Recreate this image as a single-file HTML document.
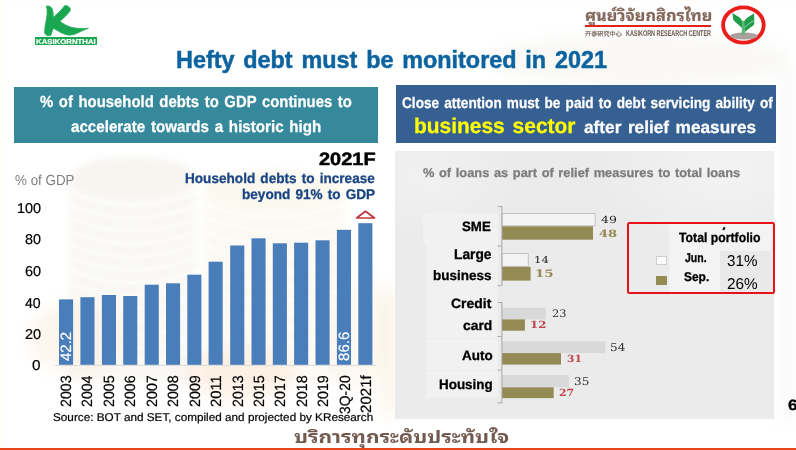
<!DOCTYPE html>
<html lang="en">
<head>
<meta charset="utf-8">
<title>Hefty debt must be monitored in 2021</title>
<style>
*{box-sizing:border-box;margin:0;padding:0}
html,body{width:796px;height:450px;overflow:hidden;background:#fff}
body{position:relative;font-family:"Liberation Sans",sans-serif;color:#000}
#slide{position:absolute;left:0;top:0;width:796px;height:450px;overflow:hidden;background:#fff}
.abs,.bar,.hb{position:absolute}
.t{position:absolute;white-space:nowrap;line-height:1;transform-origin:0 0}
.b{font-weight:bold}
.ds{font-family:"DejaVu Serif","Liberation Serif",serif}
.th{font-family:"Liberation Sans","Noto Sans Thai Looped","Loma","Noto Sans Thai",sans-serif}
.ths{font-family:"Liberation Serif","Noto Serif Thai","FreeSerif",serif}
.cjk{font-family:"Liberation Sans","Noto Sans CJK SC",sans-serif}
#lbox{left:14px;top:87px;width:364.2px;height:55.8px;background:#36899b}
#rbox{left:396px;top:85px;width:380px;height:57.8px;background:#365f92}
#panel{left:395px;top:151px;width:379.3px;height:267.5px;background:radial-gradient(ellipse 130px 70px at 88% 8%,#f3f3f3 0%,rgba(243,243,243,0) 100%),radial-gradient(ellipse 90px 60px at 8% 10%,#f1f1f1 0%,rgba(241,241,241,0) 100%),#ebebeb}
#bline{left:0;top:448.3px;width:796px;height:1.7px;background:#e8451a}
.bar{width:14.1px;background:#4a7ebb}
#xaxis{left:55px;top:364.8px;width:321px;height:1px;background:#dcdcdc}
.hb{left:502px}
.j1{background:#f3f3f3;border:1px solid #c4c4c4;border-left:0}
.j2{background:#d9d9d9}
.s{background:#948a54}
.ax{position:absolute;background:#a8a8a8}
.lb{position:absolute;background:#f1f1f1}
#legend{left:626.8px;top:222.2px;width:148.4px;height:72px;border:2px solid #ea1219;border-radius:2.5px}
#lgw{left:668.5px;top:224px;width:102.5px;height:68.4px;background:#f3f3f3}
#lgv{left:720.3px;top:251px;width:50.7px;height:41.4px;background:#e9e9e9}
#sqj{left:656px;top:255.7px;width:10.6px;height:9.4px;background:#fbfbfb;border:1px solid #cfcfcf}
#sqs{left:656px;top:276px;width:10.6px;height:9.2px;background:#948a54}
#kbox{left:35px;top:37.1px;width:61.8px;height:7.7px;background:#1ba751}
#thline{left:585px;top:25.1px;width:126px;height:1.6px;background:#e3221c}
</style>
</head>
<body>
<div id="slide">
<svg class="abs" id="bg" style="left:0;top:0" width="796" height="450" viewBox="0 0 796 450" aria-hidden="true">
<rect x="0" y="0" width="796" height="1.5" fill="#fffefa"/>
<rect x="0" y="0" width="3" height="450" fill="#fffef9"/>
<g style="filter:blur(3px)" opacity=".75">
<path d="M70 178 C70 160 196 160 196 178 L198 380 L68 380 Z" fill="#f8f6f1"/>
<ellipse cx="133" cy="176" rx="62" ry="19" fill="#f4f2ec"/>
<path d="M204 190 C204 168 345 168 345 190 L345 380 L204 380 Z" fill="#fbf8f0"/>
<ellipse cx="274" cy="188" rx="68" ry="18" fill="#faf6ea"/>
</g>
<g fill="none" stroke="#fff" stroke-width="2.2" opacity=".75" style="filter:blur(1px)">
<path d="M70 192 Q133 218 197 192"/><path d="M70 205 Q133 231 197 205"/><path d="M70 218 Q133 244 197 218"/><path d="M70 231 Q133 257 197 231"/><path d="M70 244 Q133 270 197 244"/><path d="M70 257 Q133 283 197 257"/><path d="M70 270 Q133 296 197 270"/><path d="M70 283 Q133 309 197 283"/><path d="M70 296 Q133 322 197 296"/><path d="M70 309 Q133 335 197 309"/><path d="M70 322 Q133 348 197 322"/><path d="M70 335 Q133 361 197 335"/><path d="M70 348 Q133 374 197 348"/>
<path d="M205 204 Q274 230 345 204"/><path d="M205 218 Q274 244 345 218"/><path d="M205 232 Q274 258 345 232"/><path d="M205 246 Q274 272 345 246"/><path d="M205 260 Q274 286 345 260"/><path d="M205 274 Q274 300 345 274"/><path d="M205 288 Q274 314 345 288"/><path d="M205 302 Q274 328 345 302"/><path d="M205 316 Q274 342 345 316"/><path d="M205 330 Q274 356 345 330"/><path d="M205 344 Q274 370 345 344"/><path d="M205 358 Q274 384 345 358"/>
</g>
<g style="filter:blur(7px)">
<ellipse cx="78" cy="338" rx="50" ry="36" fill="#fcefe0" opacity=".55"/>
<ellipse cx="240" cy="374" rx="55" ry="26" fill="#fbe9d9" opacity=".6"/>
<ellipse cx="362" cy="335" rx="28" ry="55" fill="#fbeede" opacity=".42"/>
<rect x="382" y="290" width="13" height="125" fill="#faecd6" opacity=".6"/>
<ellipse cx="640" cy="60" rx="150" ry="25" fill="#f8f6f3" opacity=".8"/>
<rect x="778" y="70" width="18" height="350" fill="#f6f6f6" opacity=".6"/>
</g>
</svg>
<!-- header logos -->
<svg class="abs" id="klogo" style="left:40px;top:2px" width="54" height="37" viewBox="40 2 54 37" aria-label="K">
<path d="M46.25 6.0 L49.9 6.2 L52.3 8.8 L53.1 12.9 L53.3 17.3 L59.1 12.1 L63.1 7.6 L64.7 5.5 L67.2 5.8 L70.0 8.0 L70.4 10.5 L67.2 14.5 L62.3 19.3 L59.9 21.5 L65.5 24.9 L71.2 27.3 L76.8 28.3 L83.2 28.4 L88.5 28.3 L82.8 30.5 L78.7 32.6 L74.6 34.3 L69.7 35.2 L65.6 34.6 L60.7 32.6 L57.3 30.5 L53.3 28.3 L51.9 32.2 L50.7 35.6 L47.1 35.8 L44.5 33.0 L45.0 26.5 L46.25 20.1 L47.1 14.5 L47.1 9.6 Z" fill="#1ba751" stroke="#1ba751" stroke-width=".7" stroke-linejoin="round"/>
</svg>
<div class="abs" id="kbox"></div>
<div class="t b" id="kt" style="left:36.13px;top:37.5px;font-size:7px;transform:scaleX(1.113) skewX(.05deg);color:#fff;-webkit-text-stroke:0.2px #fff">KASIKORNTHAI</div>
<div class="t b th" id="th1" style="left:584.68px;top:7.9px;font-size:15.8px;transform:scaleX(1.035) skewX(.05deg);color:#84685b;-webkit-text-stroke:0.2px #84685b">ศูนย์วิจัยกสิกรไทย</div>
<div class="abs" id="thline"></div>
<div class="t cjk" id="cn" style="left:585.19px;top:31.3px;font-size:6.2px;transform:scaleX(0.994) skewX(.05deg);color:#6b5a52;-webkit-text-stroke:0.15px #6b5a52">开泰研究中心</div>
<div class="t b" id="krc" style="left:625.87px;top:29.3px;font-size:8.29px;transform:scaleX(0.657) skewX(.05deg);color:#65544c">KASIKORN RESEARCH CENTER</div>
<svg class="abs" id="emblem" style="left:718px;top:2px" width="52" height="46" viewBox="718 2 52 46">
<ellipse cx="743.4" cy="25" rx="20.3" ry="17.6" fill="#fff" stroke="#ea1d1a" stroke-width="3.8"/>
<ellipse cx="743.9" cy="36" rx="13.6" ry="3.4" fill="#a8a19d"/>
<path d="M732.2 12.7 C734.4 14.4 737.4 15.8 739.6 17.6 C741 18.8 742 20.2 742.4 21.6 L742.6 28.6 C741 27 739.2 25.4 737.4 23.8 C735.8 22.4 734.2 21 733.3 19.4 C733 17.2 732.8 15 732.2 12.7 Z" fill="#1f9c48"/>
<path d="M753.9 13.3 C752 15 749.6 16.2 747.4 17.8 C745.8 19 744.6 20.2 743.9 21.4 L744.6 32.4 C746 30.8 748 29.4 750 27.8 C751.6 26.6 753.2 25.6 754.1 24.4 C754.4 20.8 754.4 17 753.9 13.3 Z" fill="#1f9c48"/>
<path d="M742.3 21.2 C743 20.6 743.8 20.6 744.4 21.2 L744.8 34.6 L741.6 34.6 Z" fill="#5cb577"/>
<path d="M744.9 27.2 C747.4 24.6 750.6 22.4 753.6 20.8" fill="none" stroke="#cfe9d6" stroke-width=".7"/>
</svg>
<!-- title -->
<div class="t b" id="title" style="left:175.6px;top:48px;font-size:24px;transform:scaleX(0.974) skewX(.05deg);color:#0c639f;word-spacing:0.1em;-webkit-text-stroke:0.5px #0c639f">Hefty debt must be monitored in 2021</div>
<!-- left column -->
<div class="abs" id="lbox"></div>
<div class="t b" id="l1" style="left:40.1px;top:93.2px;font-size:16.16px;transform:scaleX(0.921) skewX(.05deg);color:#fff;word-spacing:0.1em;-webkit-text-stroke:0.25px #fff">% of household debts to GDP continues to</div>
<div class="t b" id="l2" style="left:71.3px;top:117.8px;font-size:16.16px;transform:scaleX(0.938) skewX(.05deg);color:#fff;word-spacing:0.1em;-webkit-text-stroke:0.25px #fff">accelerate towards a historic high</div>
<div class="t b" id="y2021" style="left:319px;top:150.9px;font-size:17.83px;transform:scaleX(1.120) skewX(.05deg);color:#000;-webkit-text-stroke:0.5px #000">2021F</div>
<div class="t b" id="a1" style="left:184.88px;top:170.6px;font-size:14.1px;transform:scaleX(0.964) skewX(.05deg);color:#1a4584;word-spacing:0.1em;-webkit-text-stroke:0.3px #1a4584">Household debts to increase</div>
<div class="t b" id="a2" style="left:241.68px;top:186.7px;font-size:14.1px;transform:scaleX(0.964) skewX(.05deg);color:#1a4584;word-spacing:0.1em;-webkit-text-stroke:0.3px #1a4584">beyond 91% to GDP</div>
<div class="t" id="ylab" style="left:15px;top:173.2px;font-size:14.57px;transform:scaleX(0.919) skewX(.05deg);color:#7f7f7f">% of GDP</div>
<div class="t" id="y0" style="left:32.34px;top:357.9px;font-size:14.29px;transform:scaleX(1.071) skewX(.05deg);color:#000;-webkit-text-stroke:0.2px #000">0</div>
<div class="t" id="y1" style="left:24.67px;top:326.74px;font-size:14.29px;transform:scaleX(1.016) skewX(.05deg);color:#000;-webkit-text-stroke:0.2px #000">20</div>
<div class="t" id="y2" style="left:25.12px;top:295.58px;font-size:14.29px;transform:scaleX(0.987) skewX(.05deg);color:#000;-webkit-text-stroke:0.2px #000">40</div>
<div class="t" id="y3" style="left:24.67px;top:264.42px;font-size:14.29px;transform:scaleX(1.016) skewX(.05deg);color:#000;-webkit-text-stroke:0.2px #000">60</div>
<div class="t" id="y4" style="left:24.82px;top:231.86px;font-size:14.29px;transform:scaleX(1.006) skewX(.05deg);color:#000;-webkit-text-stroke:0.2px #000">80</div>
<div class="t" id="y5" style="left:16.69px;top:200.7px;font-size:14.29px;transform:scaleX(1.012) skewX(.05deg);color:#000;-webkit-text-stroke:0.2px #000">100</div>
<div class="abs" id="xaxis"></div>
<svg class="abs" id="bars" style="left:0;top:200px" width="400" height="170" viewBox="0 200 400 170">
<g fill="#4a7ebb">
<rect x="59" y="299.4" width="14.1" height="65.4"/>
<rect x="80.4" y="297.2" width="14.1" height="67.6"/>
<rect x="101.9" y="295" width="14.1" height="69.8"/>
<rect x="123.2" y="296" width="14.1" height="68.8"/>
<rect x="144.7" y="284.7" width="14.1" height="80.1"/>
<rect x="166" y="283.3" width="14.1" height="81.5"/>
<rect x="187.3" y="274.7" width="14.1" height="90.1"/>
<rect x="208.6" y="261.7" width="14.1" height="103.1"/>
<rect x="230.2" y="245.5" width="14.1" height="119.3"/>
<rect x="251.5" y="238.3" width="14.1" height="126.5"/>
<rect x="272.8" y="243.3" width="14.1" height="121.5"/>
<rect x="294.1" y="242.7" width="14.1" height="122.1"/>
<rect x="315.5" y="240.3" width="14.1" height="124.5"/>
<rect x="336.9" y="229.8" width="14.1" height="135.0"/>
<rect x="358.3" y="223.2" width="14.1" height="141.6"/>
</g>
<path d="M356.6 218 L365.5 211.3 L374.5 218 Z" fill="none" stroke="#c3363f" stroke-width="1.7" stroke-linejoin="round"/>
</svg>
<div class="t" id="d0" style="left:58px;top:360.8px;font-size:15px;transform:rotate(-90deg) scaleX(1.000) skewX(.05deg);color:#fff;-webkit-text-stroke:0.15px #fff">42.2</div>
<div class="t" id="d1" style="left:336.4px;top:361.1px;font-size:15px;transform:rotate(-90deg) scaleX(1.005) skewX(.05deg);color:#fff;-webkit-text-stroke:0.15px #fff">86.6</div>
<div class="t" id="x0" style="left:59px;top:407.31px;font-size:14.86px;transform:rotate(-90deg) scaleX(0.957) skewX(.05deg);color:#000;-webkit-text-stroke:0.2px #000">2003</div>
<div class="t" id="x1" style="left:80.46px;top:407.31px;font-size:14.86px;transform:rotate(-90deg) scaleX(0.952) skewX(.05deg);color:#000;-webkit-text-stroke:0.2px #000">2004</div>
<div class="t" id="x2" style="left:102.01px;top:407.31px;font-size:14.86px;transform:rotate(-90deg) scaleX(0.957) skewX(.05deg);color:#000;-webkit-text-stroke:0.2px #000">2005</div>
<div class="t" id="x3" style="left:123.37px;top:407.31px;font-size:14.86px;transform:rotate(-90deg) scaleX(0.957) skewX(.05deg);color:#000;-webkit-text-stroke:0.2px #000">2006</div>
<div class="t" id="x4" style="left:144.93px;top:407.31px;font-size:14.86px;transform:rotate(-90deg) scaleX(0.961) skewX(.05deg);color:#000;-webkit-text-stroke:0.2px #000">2007</div>
<div class="t" id="x5" style="left:166.29px;top:407.31px;font-size:14.86px;transform:rotate(-90deg) scaleX(0.957) skewX(.05deg);color:#000;-webkit-text-stroke:0.2px #000">2008</div>
<div class="t" id="x6" style="left:187.64px;top:407.31px;font-size:14.86px;transform:rotate(-90deg) scaleX(0.961) skewX(.05deg);color:#000;-webkit-text-stroke:0.2px #000">2009</div>
<div class="t" id="x7" style="left:209px;top:407.34px;font-size:14.86px;transform:rotate(-90deg) scaleX(0.996) skewX(.05deg);color:#000;-webkit-text-stroke:0.2px #000">2011</div>
<div class="t" id="x8" style="left:230.66px;top:407.31px;font-size:14.86px;transform:rotate(-90deg) scaleX(0.957) skewX(.05deg);color:#000;-webkit-text-stroke:0.2px #000">2013</div>
<div class="t" id="x9" style="left:252.01px;top:407.31px;font-size:14.86px;transform:rotate(-90deg) scaleX(0.957) skewX(.05deg);color:#000;-webkit-text-stroke:0.2px #000">2015</div>
<div class="t" id="x10" style="left:273.37px;top:407.31px;font-size:14.86px;transform:rotate(-90deg) scaleX(0.961) skewX(.05deg);color:#000;-webkit-text-stroke:0.2px #000">2017</div>
<div class="t" id="x11" style="left:294.73px;top:407.31px;font-size:14.86px;transform:rotate(-90deg) scaleX(0.957) skewX(.05deg);color:#000;-webkit-text-stroke:0.2px #000">2018</div>
<div class="t" id="x12" style="left:316.29px;top:407.31px;font-size:14.86px;transform:rotate(-90deg) scaleX(0.961) skewX(.05deg);color:#000;-webkit-text-stroke:0.2px #000">2019</div>
<div class="t" id="x13" style="left:337.64px;top:413.62px;font-size:14.86px;transform:rotate(-90deg) scaleX(0.935) skewX(.05deg);color:#000;-webkit-text-stroke:0.2px #000">3Q-20</div>
<div class="t" id="x14" style="left:359.1px;top:413.25px;font-size:14.86px;transform:rotate(-90deg) scaleX(1.014) skewX(.05deg);color:#000;-webkit-text-stroke:0.2px #000">2021f</div>
<div class="t" id="src" style="left:53.33px;top:411.6px;font-size:11.27px;transform:scaleX(1.042) skewX(.05deg);color:#000;-webkit-text-stroke:0.2px #000">Source: BOT and SET, compiled and projected by KResearch</div>
<!-- right column -->
<div class="abs" id="rbox"></div>
<div class="t b" id="r1" style="left:402.06px;top:94.7px;font-size:15.29px;transform:scaleX(0.891) skewX(.05deg);color:#fff;word-spacing:0.1em;-webkit-text-stroke:0.25px #fff">Close attention must be paid to debt servicing ability of</div>
<div class="t b" id="r2a" style="left:413.54px;top:114.7px;font-size:21.23px;transform:scaleX(0.986) skewX(.05deg);color:#ffff00;word-spacing:0.1em;-webkit-text-stroke:0.25px #ffff00">business sector</div>
<div class="t b" id="r2b" style="left:584.26px;top:118.7px;font-size:17.26px;transform:scaleX(0.999) skewX(.05deg);color:#fff;word-spacing:0.1em;-webkit-text-stroke:0.25px #fff">after relief measures</div>
<div class="abs" id="panel"></div>
<div class="t b" id="sub" style="left:423.04px;top:167.2px;font-size:12.6px;transform:scaleX(1.020) skewX(.05deg);color:#7c7c7c;word-spacing:0.08em;-webkit-text-stroke:0.25px #7c7c7c">% of loans as part of relief measures to total loans</div>
<div class="lb" style="left:423px;top:213.4px;width:74.5px;height:30.6px"></div>
<div class="lb" style="left:426px;top:244px;width:71.5px;height:54px"></div>
<div class="lb" style="left:426px;top:298px;width:71.5px;height:40px"></div>
<div class="lb" style="left:426px;top:339px;width:72px;height:30.5px"></div>
<div class="lb" style="left:426px;top:370.5px;width:72px;height:27.5px"></div>
<svg class="abs" id="hbars" style="left:495px;top:200px" width="120" height="210" viewBox="495 200 120 210">
<rect x="502" y="213.5" width="93.2" height="12.3" fill="#f3f3f3" stroke="#c2c2c2" stroke-width="1"/>
<rect x="502" y="226.3" width="91.0" height="13.4" fill="#948a54"/>
<rect x="502" y="253.5" width="26.3" height="12.9" fill="#f3f3f3" stroke="#c2c2c2" stroke-width="1"/>
<rect x="502" y="266.9" width="28.6" height="13.7" fill="#948a54"/>
<rect x="502" y="307.7" width="43.9" height="11.7" fill="#d9d9d9"/>
<rect x="502" y="319.4" width="22.9" height="11.3" fill="#948a54"/>
<rect x="502" y="341.4" width="103.5" height="11.7" fill="#d9d9d9"/>
<rect x="502" y="353.1" width="59.0" height="11.5" fill="#948a54"/>
<rect x="502" y="375.1" width="67.1" height="12.2" fill="#d9d9d9"/>
<rect x="502" y="387.3" width="51.7" height="10.8" fill="#948a54"/>
<g fill="#a8a8a8">
<rect x="501.4" y="206.1" width="1" height="79.8"/>
<rect x="497.6" y="206.1" width="4" height="1"/>
<rect x="497.6" y="245.6" width="4" height="1"/>
<rect x="497.6" y="285.2" width="4" height="1"/>
<rect x="501.4" y="302.0" width="1" height="101.2"/>
<rect x="497.6" y="302.0" width="4" height="1"/>
<rect x="497.6" y="336.0" width="4" height="1"/>
<rect x="497.6" y="369.6" width="4" height="1"/>
<rect x="497.6" y="402.4" width="4" height="1"/>
</g>
</svg>
<div class="t ds" id="n0" style="left:601.23px;top:215.3px;font-size:9.73px;transform:scaleX(1.284) skewX(.05deg);color:#222">49</div>
<div class="t b ds" id="n1" style="left:598.68px;top:227.6px;font-size:10.14px;transform:scaleX(1.291) skewX(.05deg);color:#948a54">48</div>
<div class="t ds" id="n2" style="left:534.4px;top:255.3px;font-size:9.46px;transform:scaleX(1.233) skewX(.05deg);color:#222">14</div>
<div class="t b ds" id="n3" style="left:535.1px;top:267.9px;font-size:10.41px;transform:scaleX(1.283) skewX(.05deg);color:#948a54">15</div>
<div class="t ds" id="n4" style="left:552.01px;top:308px;font-size:10.41px;transform:scaleX(1.098) skewX(.05deg);color:#333">23</div>
<div class="t b ds" id="n5" style="left:530.08px;top:320px;font-size:9.86px;transform:scaleX(1.197) skewX(.05deg);color:#c0414b">12</div>
<div class="t ds" id="n6" style="left:609.93px;top:342.6px;font-size:10.68px;transform:scaleX(1.135) skewX(.05deg);color:#333">54</div>
<div class="t b ds" id="n7" style="left:567.26px;top:354.2px;font-size:9.86px;transform:scaleX(1.083) skewX(.05deg);color:#c0414b">31</div>
<div class="t ds" id="n8" style="left:573.86px;top:376.8px;font-size:10.68px;transform:scaleX(1.122) skewX(.05deg);color:#333">35</div>
<div class="t b ds" id="n9" style="left:559.35px;top:387.9px;font-size:9.86px;transform:scaleX(1.098) skewX(.05deg);color:#c0414b">27</div>
<div class="abs" id="lgw"></div>
<div class="abs" id="lgv"></div>
<div class="abs" id="sqj"></div>
<div class="abs" id="sqs"></div>
<div class="abs" id="legend"></div>
<div class="abs" id="tick" style="left:722.7px;top:226.6px;width:1.5px;height:2.8px;background:#111;transform:rotate(28deg)"></div>
<div class="t b" id="lg0" style="left:678.88px;top:231.3px;font-size:13.29px;transform:scaleX(0.923) skewX(.05deg);color:#000;-webkit-text-stroke:0.3px #000">Total portfolio</div>
<div class="t b" id="lg1" style="left:685.29px;top:252px;font-size:12.75px;transform:scaleX(0.825) skewX(.05deg);color:#000;-webkit-text-stroke:0.3px #000">Jun.</div>
<div class="t b" id="lg2" style="left:683.56px;top:271.4px;font-size:12.57px;transform:scaleX(0.951) skewX(.05deg);color:#000;-webkit-text-stroke:0.3px #000">Sep.</div>
<div class="t" id="lg3" style="left:727.04px;top:252.5px;font-size:15.71px;transform:scaleX(0.967) skewX(.05deg);color:#000">31%</div>
<div class="t" id="lg4" style="left:726.73px;top:275.5px;font-size:15.71px;transform:scaleX(0.977) skewX(.05deg);color:#000">26%</div>
<div class="t b" id="c0" style="left:461.73px;top:220.4px;font-size:13.57px;transform:scaleX(0.978) skewX(.05deg);color:#000;-webkit-text-stroke:0.3px #000">SME</div>
<div class="t b" id="c1a" style="left:453.67px;top:247.3px;font-size:14.2px;transform:scaleX(0.969) skewX(.05deg);color:#000;-webkit-text-stroke:0.3px #000">Large</div>
<div class="t b" id="c1b" style="left:432.79px;top:269px;font-size:13.7px;transform:scaleX(0.985) skewX(.05deg);color:#000;-webkit-text-stroke:0.3px #000">business</div>
<div class="t b" id="c2a" style="left:451.34px;top:297.4px;font-size:13.57px;transform:scaleX(1.028) skewX(.05deg);color:#000;-webkit-text-stroke:0.3px #000">Credit</div>
<div class="t b" id="c2b" style="left:462.88px;top:319.1px;font-size:13.56px;transform:scaleX(1.021) skewX(.05deg);color:#000;-webkit-text-stroke:0.3px #000">card</div>
<div class="t b" id="c3" style="left:461.73px;top:349px;font-size:13.57px;transform:scaleX(0.993) skewX(.05deg);color:#000;-webkit-text-stroke:0.3px #000">Auto</div>
<div class="t b" id="c4" style="left:439.09px;top:377.5px;font-size:13.71px;transform:scaleX(0.980) skewX(.05deg);color:#000;-webkit-text-stroke:0.3px #000">Housing</div>
<!-- footer -->
<div class="t b" id="pg" style="left:788.49px;top:396.6px;font-size:15px;transform:scaleX(1.129) skewX(.05deg);color:#000;-webkit-text-stroke:0.3px #000">6</div>
<div class="t b th" id="slogan" style="left:294.08px;top:428.6px;font-size:17.5px;transform:scaleX(1.200) skewX(.05deg);color:#735a50">บริการทุกระดับประทับใจ</div>
<div class="abs" id="bline"></div>
</div>
</body>
</html>
